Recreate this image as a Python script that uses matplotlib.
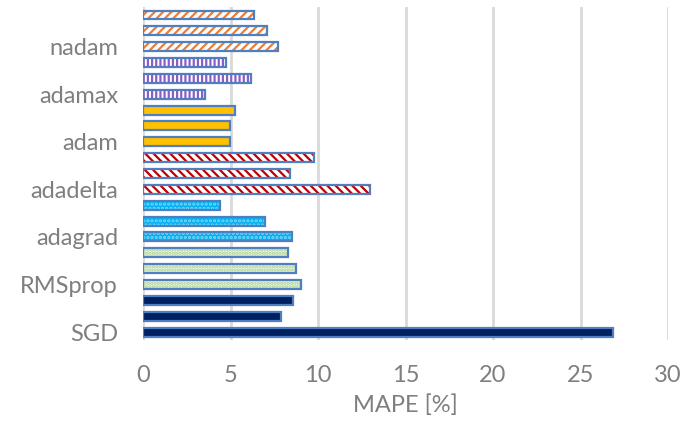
import numpy as np
import matplotlib
matplotlib.use('Agg')
import matplotlib.pyplot as plt

# MAPE [%] per optimizer, three runs each (bottom bar first)
optimizers = ['SGD', 'RMSprop', 'adagrad', 'adadelta', 'adam', 'adamax', 'nadam']
sgd = [26.84, 7.90, 8.57]
rmsprop = [9.05, 8.72, 8.30]
adagrad = [8.49, 6.99, 4.38]
adadelta = [12.95, 8.38, 9.77]
adam = [4.99, 4.95, 5.24]
adamax = [3.54, 6.15, 4.76]
nadam = [7.70, 7.07, 6.36]
xticks = [0, 5, 10, 15, 20, 25, 30]

groups = [sgd, rmsprop, adagrad, adadelta, adam, adamax, nadam]

# fill, hatch colour, hatch pattern for each optimizer
styles = [
    ('#002060', '#002060', None),
    ('#eef6e4', '#a9d18e', '.....'),
    ('#00b0f0', '#7fd6f7', '....'),
    ('white', '#c00000', '\\\\\\\\'),
    ('#ffc000', '#ffc000', None),
    ('white', '#8e5cc4', '||||'),
    ('white', '#ed7d31', '////'),
]

edge = '#4f7fc0'
text_col = '#7f7f7f'
plt.rcParams['font.family'] = ['Lato', 'DejaVu Sans']
plt.rcParams['hatch.linewidth'] = 1.6

fig = plt.figure(figsize=(6.99, 4.25), dpi=100)
ax = fig.add_axes([0.2046, 0.2, 0.7511, 0.7835])

pos = 0
tick_pos, tick_lab = [], []
for name, vals, (fc, hc, hatch) in zip(optimizers, groups, styles):
    for k, v in enumerate(vals):
        if hatch:
            ax.barh(pos, v, height=0.56, color=fc, edgecolor=hc, hatch=hatch,
                    linewidth=0, zorder=2)
        else:
            ax.barh(pos, v, height=0.56, color=fc, linewidth=0, zorder=2)
        ax.barh(pos, v, height=0.56, facecolor='none', edgecolor=edge,
                linewidth=1.6, zorder=3)
        tick_pos.append(pos)
        tick_lab.append(name if k == 0 else '')
        pos += 1

ax.set_ylim(-0.5, pos - 0.5)
ax.set_xlim(0, 30)
ax.set_yticks(tick_pos)
ax.set_yticklabels(tick_lab)
ax.set_xticks(xticks)
ax.grid(axis='x', color='#d9d9d9', linewidth=2, zorder=0)
ax.set_axisbelow(True)
for s in ax.spines.values():
    s.set_visible(False)
ax.tick_params(axis='both', length=0, labelsize=17, labelcolor=text_col)
ax.tick_params(axis='y', pad=18)
ax.tick_params(axis='x', pad=18)
ax.set_xlabel('MAPE [%]', fontsize=17, color=text_col, labelpad=6)

fig.savefig('out.png', dpi=100)
